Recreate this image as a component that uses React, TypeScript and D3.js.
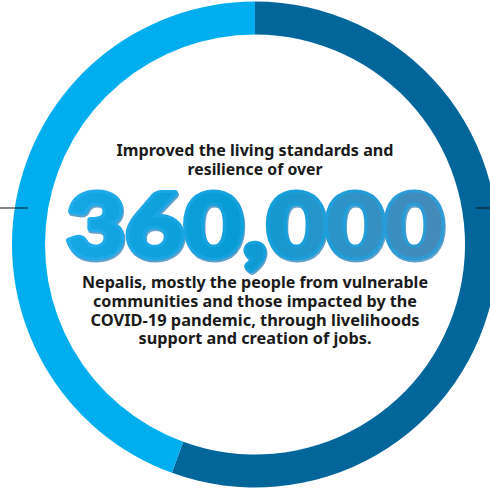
import React from "react";
import * as d3 from "d3";

const segments = ["reached", "rest"];
const segmentValues = [200, 160];
const segmentColors = ["#02669B", "#00AEEF"];
const headline = "360,000";
const topLines = ["Improved the living standards and", "resilience of over"];
const bottomLines = [
  "Nepalis, mostly the people from vulnerable",
  "communities and those impacted by the",
  "COVID-19 pandemic, through livelihoods",
  "support and creation of jobs.",
];
const topWidths = [277, 135];
const bottomWidths = [346, 324, 329, 233];

export default function App() {
  const W = 490, H = 489;
  const cx = 255, cy = 244.5;
  const pie = d3.pie<number>().sort(null).startAngle(0).endAngle(2 * Math.PI);
  const arcs = pie(segmentValues);
  const arc = d3.arc<d3.PieArcDatum<number>>().innerRadius(210).outerRadius(243);
  const lineY = d3.scaleLinear().domain([0, 1]).range([0, 18.8]);

  return (
    <svg width={W} height={H} style={{ position: "absolute", left: 0, top: 0, background: "#fff" }}>
      <defs>
        <linearGradient id="numg" gradientUnits="userSpaceOnUse" x1={63} x2={447} y1={0} y2={0}>
          <stop offset="0" stopColor="#16A7E6" />
          <stop offset="0.45" stopColor="#079BD3" />
          <stop offset="0.7" stopColor="#2A94C9" />
          <stop offset="1" stopColor="#4789B8" />
        </linearGradient>
        <linearGradient id="nums" gradientUnits="userSpaceOnUse" x1={63} x2={447} y1={0} y2={0}>
          <stop offset="0" stopColor="#22ADEE" />
          <stop offset="0.5" stopColor="#12A0DC" />
          <stop offset="1" stopColor="#2F9BD6" />
        </linearGradient>
      </defs>
      <g transform={`translate(${cx},${cy})`}>
        {arcs.map((a, i) => (
          <path key={segments[i]} d={arc(a) || ""} fill={segmentColors[i]} />
        ))}
      </g>
      <line x1={0} x2={28} y1={208} y2={208} stroke="#111" strokeWidth={1} />
      <line x1={476} x2={490} y1={208} y2={208} stroke="#111" strokeWidth={1} />
      <g fontFamily="'Noto Sans', sans-serif" fontWeight={700} fontSize={16} fill="#1a1a1a" textAnchor="middle">
        {topLines.map((t, i) => (
          <text key={t} x={cx} y={156 + lineY(i)} textLength={topWidths[i]} lengthAdjust="spacingAndGlyphs">{t}</text>
        ))}
        {bottomLines.map((t, i) => (
          <text key={t} x={cx} y={288 + lineY(i)} textLength={bottomWidths[i]} lengthAdjust="spacingAndGlyphs">{t}</text>
        ))}
      </g>
      <g fontFamily="Lato, 'DejaVu Sans', sans-serif" fontWeight={900} fontSize={88} textAnchor="middle">
        <text x={cx + 1} y={258.5} textLength={377} lengthAdjust="spacingAndGlyphs" fill="#1F78B2" stroke="#1F78B2" strokeWidth={6} strokeLinejoin="round" opacity={0.7}>{headline}</text>
        <text x={cx} y={257} textLength={377} lengthAdjust="spacingAndGlyphs" fill="url(#numg)" stroke="url(#nums)" strokeWidth={6} strokeLinejoin="round" paintOrder="stroke">{headline}</text>
      </g>
    </svg>
  );
}
